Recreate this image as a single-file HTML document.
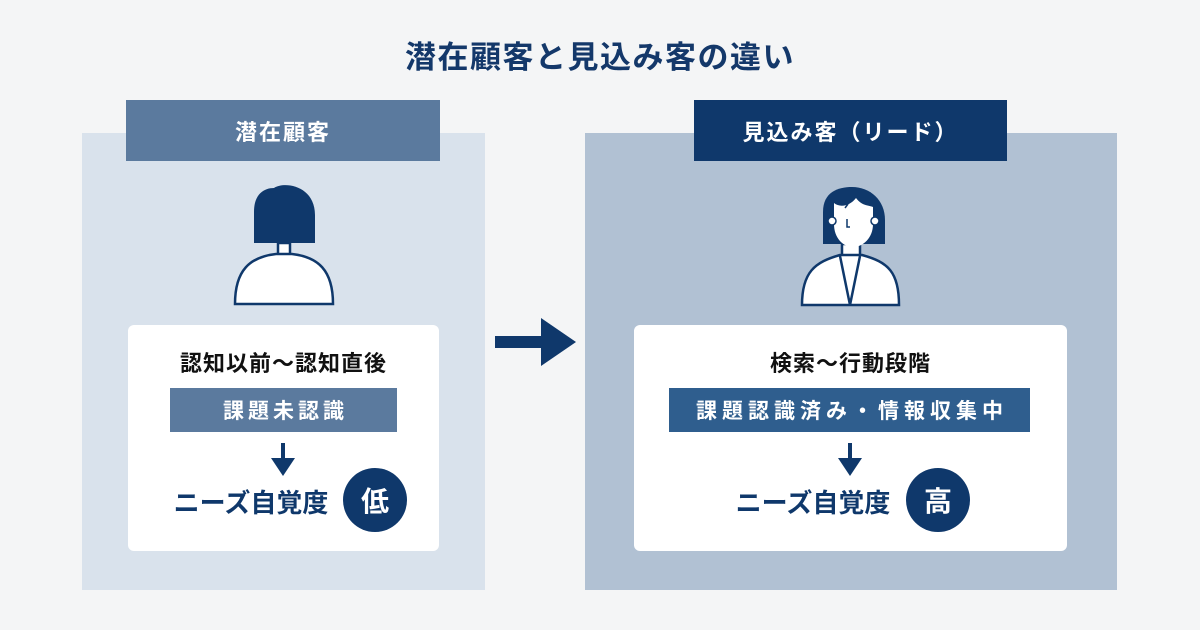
<!DOCTYPE html>
<html><head><meta charset="utf-8"><style>
body{margin:0;width:1200px;height:630px;background:#f4f5f6;position:relative;overflow:hidden;font-family:"Liberation Sans","Noto Sans CJK JP",sans-serif;font-weight:bold}
.a{position:absolute}
.c{display:flex;align-items:center;justify-content:center}
</style></head><body>
<div class="a c" style="left:300px;top:32px;width:600px;height:44px;font-size:31px;color:#14386a;letter-spacing:1.5px">潜在顧客と見込み客の違い</div>

<div class="a" style="left:82px;top:133px;width:403px;height:457px;background:#d9e2ec"></div>
<div class="a c" style="left:126px;top:100px;width:314px;height:61px;background:#5b7a9e;color:#fff;font-size:22px;letter-spacing:2px">潜在顧客</div>

<div class="a" style="left:585px;top:133px;width:532px;height:457px;background:#b1c1d3"></div>
<div class="a c" style="left:694px;top:100px;width:313px;height:61px;background:#0f386b;color:#fff;font-size:22px;letter-spacing:2px">見込み客（リード）</div>

<svg class="a" style="left:0;top:0" width="1200" height="630">
<path d="M278 243 L278 256 L290 256 L290 243 Z" fill="#fff" stroke="#0f386b" stroke-width="2.5"/>
<path d="M235 304 C235 270 250 257 276 254 L292 254 C318 257 333 270 333 304 Z" fill="#fff" stroke="#0f386b" stroke-width="2.5"/>
<path d="M254 243 L254 212 C254 194 264 188 274 188 C285 181 315 186 315 215 L315 243 Z" fill="#0f386b"/>
<rect x="495" y="336" width="50" height="12" fill="#0f386b"/>
<path d="M541 318 L576 342 L541 366 Z" fill="#0f386b"/>
<path d="M823 244 L823 212 C823 192 838 187 852 187 C870 187 885 200 885 220 L885 244 Z" fill="#0f386b"/>
<path d="M842 244 L842 258 L860 258 L860 244 Z" fill="#fff" stroke="#0f386b" stroke-width="2.5"/>
<path d="M802 305 C802 272 815 262 840 255 L862 255 C888 262 899 272 899 305 Z" fill="#fff" stroke="#0f386b" stroke-width="2.5"/>
<path d="M840 256 L850 305 L860 256" fill="none" stroke="#0f386b" stroke-width="2.5"/>
<path d="M834 203 C840 208 850 206 856 198 C862 206 868 205 873 207 L873 224 C873 238 863 247 853 247 C843 247 834 238 834 224 Z" fill="#fff"/>
<circle cx="832" cy="221" r="4" fill="#fff" stroke="#0f386b" stroke-width="1.5"/>
<circle cx="875" cy="221" r="4" fill="#fff" stroke="#0f386b" stroke-width="1.5"/>
<path d="M847 219 L847 227 L850 227" fill="none" stroke="#0f386b" stroke-width="1.5"/>
<path d="M845 208 L848 204" stroke="#0f386b" stroke-width="1.5"/>
</svg>

<div class="a" style="left:128px;top:325px;width:311px;height:226px;background:#fff;border-radius:6px"></div>
<div class="a c" style="left:128px;top:348px;width:311px;height:28px;font-size:22px;color:#111;letter-spacing:1px">認知以前〜認知直後</div>
<div class="a c" style="left:170px;top:388px;width:227px;height:44px;background:#5b7a9e;color:#fff;font-size:21px;letter-spacing:4px;text-indent:4px">課題未認識</div>
<div class="a c" style="left:168px;top:484px;width:166px;height:34px;font-size:26px;color:#0f386b">ニーズ自覚度</div>
<div class="a c" style="left:343px;top:468px;width:64px;height:64px;border-radius:50%;background:#0f386b;color:#fff;font-size:28px">低</div>

<div class="a" style="left:634px;top:325px;width:433px;height:226px;background:#fff;border-radius:6px"></div>
<div class="a c" style="left:634px;top:348px;width:433px;height:28px;font-size:22px;color:#111;letter-spacing:1px">検索〜行動段階</div>
<div class="a c" style="left:669px;top:388px;width:361px;height:44px;background:#2f5e8e;color:#fff;font-size:21px;letter-spacing:5px;text-indent:5px">課題認識済み・情報収集中</div>
<div class="a c" style="left:730px;top:484px;width:166px;height:34px;font-size:26px;color:#0f386b">ニーズ自覚度</div>
<div class="a c" style="left:906px;top:468px;width:64px;height:64px;border-radius:50%;background:#0f386b;color:#fff;font-size:28px">高</div>
<svg class="a" style="left:0;top:0" width="1200" height="630">
<rect x="281" y="443" width="4" height="17" fill="#0f386b"/><path d="M271 458 L295 458 L283 476 Z" fill="#0f386b"/>
<rect x="848" y="443" width="4" height="17" fill="#0f386b"/><path d="M838 458 L862 458 L850 476 Z" fill="#0f386b"/>
</svg>
</body></html>
